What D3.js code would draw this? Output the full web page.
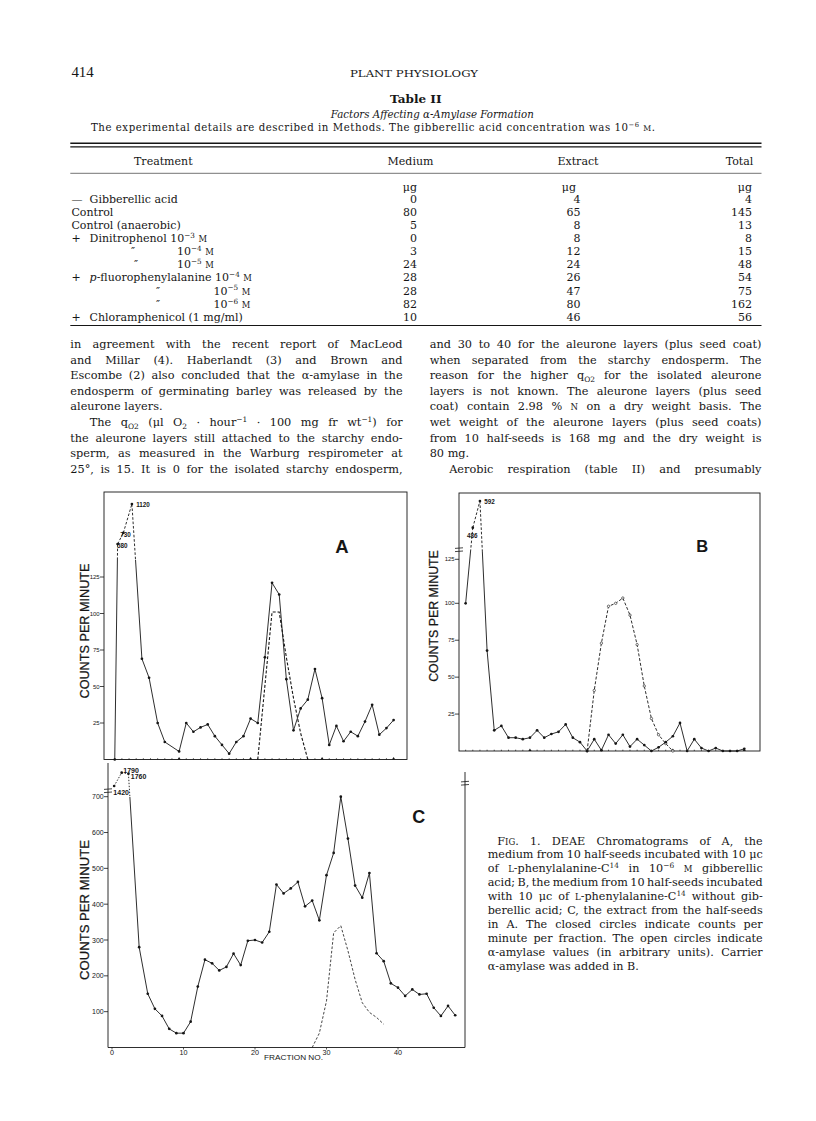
<!DOCTYPE html>
<html>
<head>
<meta charset="utf-8">
<script src="https://cdn.jsdelivr.net/npm/d3@7/dist/d3.min.js"></script>
<style>
  body { margin: 0; background: #fff; }
  svg { display: block; }
</style>
</head>
<body>
<svg id="page" width="816" height="1121"></svg>
<script>
// ---------------- table II
const treatments = [
  'Gibberellic acid', 'Control', 'Control (anaerobic)',
  'Dinitrophenol 10^[−3] ~[m]', '10^[−4] ~[m]', '10^[−5] ~[m]',
  '*[p]-fluorophenylalanine 10^[−4] ~[m]', '10^[−5] ~[m]', '10^[−6] ~[m]',
  'Chloramphenicol (1 mg/ml)'
]
const treatmentMarks = ['—', '', '', '+', '″', '″', '+', '″', '″', '+']
const medium  = [0, 80, 5, 0, 3, 24, 28, 28, 82, 10]
const extract = [4, 65, 8, 8, 12, 24, 26, 47, 80, 46]
const total   = [4, 145, 13, 8, 15, 48, 54, 75, 162, 56]

// ---------------- fig 1 A  (closed circles = counts, open = alpha-amylase)
const fracA   = [1, 1.4, 2.2, 3.4, 4.8, 5.8, 7, 8, 10, 11, 12, 13, 14, 15, 16, 17, 18, 19, 20,
                 21, 22, 23, 24, 25, 26, 27, 28, 29, 30, 31, 32, 33, 34, 35, 36, 37, 38, 39, 40]
const countsA = [0, 580, 730, 1120, 69, 56, 25, 12, 5.5, 25, 19, 22, 24, 16, 10, 4, 12, 16, 28,
                 25, 70, 121, 113, 55, 20, 35, 41, 62, 42, 10, 23, 12.5, 19, 16, 26, 37.5, 17, 21.5, 27]
const amyFracA = [21, 23, 24, 25, 26, 27, 28]
const amyA     = [0, 101, 101, 70, 42, 18, 0]

// ---------------- fig 1 B
const fracB   = d3.range(1, 41)
const countsB = [100, 486, 592, 68, 14, 17, 9, 9, 8, 9, 14, 9, 11.5, 13, 18, 9, 6, 0, 8, 0.5,
                 11, 5, 11, 3, 8, 4, 0, 2.5, 6, 10, 19, 0, 8, 2, 0, 2, 0, 0, 0, 1.5]
const amyFracB = d3.range(18, 31)
const amyB     = [0, 41, 73, 98, 100, 103, 92, 72, 44, 22, 11, 5, 0]

// ---------------- fig 1 C
const fracC   = [0.3, 1.35, 2.3, 3.8, 5, 6, 7, 8, 9, 10, 11, 12, 13, 14, 15, 16, 17, 18, 19, 20,
                 21, 22, 23, 24, 25, 26, 27, 28, 29, 30, 31, 32, 33, 34, 35, 36, 37, 38, 39, 40,
                 41, 42, 43, 44, 45, 46, 47, 48]
const countsC = [1420, 1790, 1760, 280, 150, 108, 88, 52, 40, 40, 72, 170, 245, 235, 215, 225, 262, 230, 298, 300,
                 293, 323, 455, 430, 444, 462, 394, 410, 355, 481, 543, 705, 583, 452, 418, 487, 263, 241, 179, 167,
                 144, 162, 148, 150, 111, 88, 116, 90]
const amyFracC = d3.range(28, 39)
const amyC     = [0, 40, 130, 320, 340, 270, 190, 125, 98, 84, 65]

const ticksAB = [25, 50, 75, 100, 125]
const ticksC  = [100, 200, 300, 400, 500, 600, 700]
const fracTicksC = [0, 10, 20, 30, 40]
const yTitle = 'COUNTS PER MINUTE'

// ---------------- page setup
const svg = d3.select('#page')
const serif = '"DejaVu Serif", "Liberation Serif", serif'
const sans = '"Liberation Sans", Arial, sans-serif'
const ink = '#161616'

svg.append('rect').attr('width', 816).attr('height', 1121).attr('fill', '#fff')

// tiny markup: ^[sup] _[sub] ~[small caps] *[italic]
function rich(t, str, size) {
  const re = /([\^_~*])\[([^\]]*)\]/g
  const parts = []
  let last = 0, m
  while ((m = re.exec(str))) {
    if (m.index > last) parts.push({ s: str.slice(last, m.index) })
    parts.push({ s: m[2], k: m[1] })
    last = re.lastIndex
  }
  if (last < str.length) parts.push({ s: str.slice(last) })
  let off = 0
  parts.forEach(p => {
    let shift = 0, fs = size, txt = p.s
    if (p.k === '^') { shift = -0.38 * size; fs = size * 0.66 }
    if (p.k === '_') { shift = 0.24 * size; fs = size * 0.66 }
    if (p.k === '~') { fs = size * 0.76; txt = txt.toUpperCase() }
    const ts = t.append('tspan').attr('dy', shift - off).attr('font-size', fs).text(txt)
    if (p.k === '*') ts.attr('font-style', 'italic')
    off = shift
  })
  return t
}

function line(g, str, x, y, size, o = {}) {
  const t = g.append('text').attr('x', x).attr('y', y)
    .attr('font-family', o.family || serif).attr('font-size', size).attr('fill', ink)
  if (o.anchor) t.attr('text-anchor', o.anchor)
  if (o.weight) t.attr('font-weight', o.weight)
  if (o.style) t.attr('font-style', o.style)
  rich(t, str, size)
  if (o.justify) {
    const n = (str.match(/ /g) || []).length
    const w = t.node().getComputedTextLength()
    if (n) t.style('word-spacing', ((o.justify - w) / n) + 'px')
  }
  if (o.len) t.attr('textLength', o.len).attr('lengthAdjust', o.adjust || 'spacingAndGlyphs')
  return t
}

function rule(g, x1, x2, y, w) {
  g.append('line').attr('x1', x1).attr('x2', x2).attr('y1', y).attr('y2', y)
    .attr('stroke', ink).attr('stroke-width', w)
}

// ---------------- running head + table
const head = svg.append('g')
line(head, '414', 71.4, 77, 15, { family: '"Liberation Serif", serif', len: 22.4 })
line(head, 'PLANT PHYSIOLOGY', 350, 77.3, 9.2, { len: 128 })
line(head, 'Table II', 415.8, 103.3, 11.5, { anchor: 'middle', weight: 'bold', len: 51.6 })
line(head, 'Factors Affecting α-Amylase Formation', 432.3, 117.5, 11, { anchor: 'middle', style: 'italic', len: 203 })
line(head, 'The experimental details are described in Methods.  The gibberellic acid concentration was 10^[−6] ~[m].',
  91, 130.5, 10.2, { len: 564, adjust: 'spacing' })

const tbl = svg.append('g')
rule(tbl, 70.3, 761.5, 143.3, 1.6)
rule(tbl, 70.3, 761.5, 146.9, 1.1)
rule(tbl, 70.3, 761.5, 173.3, 0.6)
line(tbl, 'Treatment', 163.3, 165, 11, { anchor: 'middle' })
const colRight = [417, 580.5, 752]
const headMid = [410.5, 578, 739.5]
;['Medium', 'Extract', 'Total'].forEach((c, i) => line(tbl, c, headMid[i], 165, 11, { anchor: 'middle' }))
;[417, 576, 752].forEach(x => line(tbl, 'μg', x, 190.5, 11, { anchor: 'end' }))

const rowY = i => 202.5 + i * 13.15
// indent of ditto / concentration rows
const dittoX = [0, 0, 0, 0, 131, 134, 0, 156, 156, 0]
const concX  = [0, 0, 0, 0, 177, 177, 0, 213.5, 213.5, 0]
treatments.forEach((t, i) => {
  const m = treatmentMarks[i]
  if (m === '″') {
    line(tbl, m, dittoX[i], rowY(i), 11)
    line(tbl, t, concX[i], rowY(i), 11)
  } else if (m) {
    line(tbl, m, 71.4, rowY(i), 11)
    line(tbl, t, 89.6, rowY(i), 11)
  } else {
    line(tbl, t, 71.4, rowY(i), 11)
  }
  ;[medium, extract, total].forEach((col, j) =>
    line(tbl, String(col[i]), colRight[j], rowY(i), 11, { anchor: 'end' }))
})
rule(tbl, 70.3, 761.5, 325.5, 1.1)

// ---------------- body text (two columns)
const leftCol = [
  { t: 'in agreement with the recent report of MacLeod', j: 1 },
  { t: 'and Millar (4).  Haberlandt (3) and Brown and', j: 1 },
  { t: 'Escombe (2) also concluded that the α-amylase in the', j: 1 },
  { t: 'endosperm of germinating barley was released by the', j: 1 },
  { t: 'aleurone layers.', j: 0 },
  { t: 'The q_[O2] (μl O_[2] · hour^[−1] · 100 mg fr wt^[−1]) for', j: 1, ind: 1 },
  { t: 'the aleurone layers still attached to the starchy endo-', j: 1 },
  { t: 'sperm, as measured in the Warburg respirometer at', j: 1 },
  { t: '25°, is 15.  It is 0 for the isolated starchy endosperm,', j: 1 }
]
const rightCol = [
  { t: 'and 30 to 40 for the aleurone layers (plus seed coat)', j: 1 },
  { t: 'when separated from the starchy endosperm.  The', j: 1 },
  { t: 'reason for the higher q_[O2] for the isolated aleurone', j: 1 },
  { t: 'layers is not known.  The aleurone layers (plus seed', j: 1 },
  { t: 'coat) contain 2.98 % ~[n] on a dry weight basis.  The', j: 1 },
  { t: 'wet weight of the aleurone layers (plus seed coats)', j: 1 },
  { t: 'from 10 half-seeds is 168 mg and the dry weight is', j: 1 },
  { t: '80 mg.', j: 0 },
  { t: 'Aerobic respiration (table II) and presumably', j: 1, ind: 1 }
]
const body = svg.append('g')
function column(lines, x0, width) {
  lines.forEach((l, i) => {
    const ind = l.ind ? 19.5 : 0
    line(body, l.t.replace(/  /g, ' '), x0 + ind, 348 + i * 15.6, 11.3,
      l.j ? { justify: width - ind } : {})
  })
}
column(leftCol, 70.3, 332.3)
column(rightCol, 429.7, 331.8)

// ---------------- caption
const caption = [
  { t: 'F~[ig]. 1.  DEAE Chromatograms of A, the', j: 1, ind: 1 },
  { t: 'medium from 10 half-seeds incubated with 10 μc', j: 1 },
  { t: 'of ~[l]-phenylalanine-C^[14] in 10^[−6] ~[m] gibberellic', j: 1 },
  { t: 'acid; B, the medium from 10 half-seeds incubated', j: 1 },
  { t: 'with 10 μc of ~[l]-phenylalanine-C^[14] without gib-', j: 1 },
  { t: 'berellic acid; C, the extract from the half-seeds', j: 1 },
  { t: 'in A.  The closed circles indicate counts per', j: 1 },
  { t: 'minute per fraction.  The open circles indicate', j: 1 },
  { t: 'α-amylase values (in arbitrary units).  Carrier', j: 1 },
  { t: 'α-amylase was added in B.', j: 0 }
]
const cap = svg.append('g')
caption.forEach((l, i) => {
  const ind = l.ind ? 9.6 : 0
  line(cap, l.t.replace(/  /g, ' '), 487.7 + ind, 844.5 + i * 13.9, 11.2,
    l.j ? { justify: 275 - ind } : {})
})

// ---------------- charts
const xA = d3.scaleLinear().domain([0, 40]).range([107.6, 393.6])
const yA = d3.scaleLinear().domain([0, 125, 580, 1120]).range([759.5, 577, 544, 504])
const xB = d3.scaleLinear().domain([0, 40]).range([458.5, 744.3])
const yB = d3.scaleLinear().domain([0, 100, 125, 486, 592]).range([751, 603.3, 559.3, 527.7, 501])
const xC = d3.scaleLinear().domain([0, 40]).range([112, 398])
const yC = d3.scaleLinear().domain([0, 700, 1420, 1790]).range([1047.5, 796.7, 786, 772.7])

function seg(g, a, b, dash, w) {
  g.append('line').attr('x1', a[0]).attr('y1', a[1]).attr('x2', b[0]).attr('y2', b[1])
    .attr('stroke', ink).attr('stroke-width', w)
    .attr('stroke-dasharray', dash || null)
}

// counts line: the part above the axis break is drawn broken
function counts(g, fr, vals, x, y, breakY, dash) {
  const P = fr.map((f, i) => [x(f), y(vals[i])])
  for (let i = 1; i < P.length; i++) {
    const a = P[i - 1], b = P[i]
    const ua = a[1] < breakY, ub = b[1] < breakY
    if (ua === ub) seg(g, a, b, ua ? dash : null, 0.9)
    else {
      const t = (breakY - a[1]) / (b[1] - a[1])
      const m = [a[0] + t * (b[0] - a[0]), breakY]
      seg(g, a, m, ua ? dash : null, 0.9)
      seg(g, m, b, ub ? dash : null, 0.9)
    }
  }
  g.selectAll(null).data(P).join('circle')
    .attr('cx', d => d[0]).attr('cy', d => d[1]).attr('r', 1.35).attr('fill', ink)
}

function amylase(g, fr, vals, x, y, dash, w, open) {
  const P = fr.map((f, i) => [x(f), y(vals[i])])
  g.append('path').attr('d', d3.line()(P)).attr('fill', 'none')
    .attr('stroke', ink).attr('stroke-width', w).attr('stroke-dasharray', dash)
  if (open) g.selectAll(null).data(P).join('circle')
    .attr('cx', d => d[0]).attr('cy', d => d[1]).attr('r', 1.2)
    .attr('fill', '#fff').attr('stroke', ink).attr('stroke-width', 0.6)
}

function breakLabels(g, fr, vals, x, y, min, offs, size) {
  fr.forEach((f, i) => {
    if (vals[i] < min) return
    const o = offs.shift()
    g.append('text').attr('x', x(f) + o[0]).attr('y', y(vals[i]) + o[1])
      .attr('text-anchor', o[2] || 'start')
      .attr('font-family', sans).attr('font-weight', 'bold').attr('font-size', size)
      .attr('fill', ink).text(vals[i])
  })
}

function yAxis(g, y, ticks, axisX, size) {
  ticks.forEach(v => {
    seg(g, [axisX - 4, y(v)], [axisX, y(v)], null, 0.8)
    g.append('text').attr('x', axisX - 4.3).attr('y', y(v) + size * 0.36)
      .attr('text-anchor', 'end').attr('font-family', sans).attr('font-size', size)
      .attr('fill', ink).text(v)
  })
}

function title(g, cx, cy, len) {
  g.append('text').attr('transform', `translate(${cx},${cy}) rotate(-90)`)
    .attr('y', 4.5).attr('text-anchor', 'middle')
    .attr('font-family', sans).attr('font-size', 12.6).attr('fill', ink)
    .attr('stroke', ink).attr('stroke-width', 0.25)
    .attr('textLength', len).attr('lengthAdjust', 'spacingAndGlyphs')
    .text(yTitle)
}

function fractionTicks(g, x, axisY) {
  d3.range(1, 41).forEach(f => {
    if (f % 10 === 0) {
      const cx = x(f)
      g.append('path').attr('d', `M${cx - 1.6},${axisY}L${cx},${axisY - 2.6}L${cx + 1.6},${axisY}Z`).attr('fill', ink)
    } else seg(g, [x(f), axisY], [x(f), axisY - 1.3], null, 0.7)
  })
}

function letter(g, s, x, y, size) {
  g.append('text').attr('x', x).attr('y', y).attr('text-anchor', 'middle')
    .attr('font-family', sans).attr('font-weight', 'bold').attr('font-size', size)
    .attr('fill', ink).text(s)
}

function breakMark(g, x, y) {
  seg(g, [x - 4, y - 1.6], [x + 4, y - 2.2], null, 0.8)
  seg(g, [x - 4, y + 1.6], [x + 4, y + 1.0], null, 0.8)
}

// ----- A
const gA = svg.append('g')
gA.append('rect').attr('x', 104).attr('y', 492).attr('width', 303).attr('height', 267.5)
  .attr('fill', 'none').attr('stroke', ink).attr('stroke-width', 0.9)
fractionTicks(gA, xA, 759.5)
yAxis(gA, yA, ticksAB, 104, 6)
amylase(gA, amyFracA, amyA, xA, yA, '3,1.8', 1.1, false)
counts(gA, fracA, countsA, xA, yA, 560, '2.6,1.8')
breakLabels(gA, fracA, countsA, xA, yA, 500, [[-0.5, 4.2], [-3, 4.5], [4.3, 2.7]], 6.3)
title(gA, 84, 631, 135)
letter(gA, 'A', 342, 553.3, 18.5)

// ----- B
const gB = svg.append('g')
gB.append('rect').attr('x', 459).attr('y', 493).attr('width', 301).attr('height', 258)
  .attr('fill', 'none').attr('stroke', ink).attr('stroke-width', 0.9)
fractionTicks(gB, xB, 751)
yAxis(gB, yB, ticksAB, 459, 6)
breakMark(gB, 459, 550)
amylase(gB, amyFracB, amyB, xB, yB, '3,1.8', 0.9, true)
counts(gB, fracB, countsB, xB, yB, 552, '2.6,1.8')
breakLabels(gB, fracB, countsB, xB, yB, 400, [[-0.5, 10.6, 'middle'], [4.4, 3]], 6.3)
title(gB, 433.5, 616, 131.7)
letter(gB, 'B', 702.3, 551.5, 16.5)

// ----- C
const gC = svg.append('g')
seg(gC, [108, 763], [108, 1047.5], null, 0.9)
seg(gC, [108, 1047.5], [465, 1047.5], null, 0.9)
seg(gC, [465, 772], [465, 1047.5], null, 0.9)
breakMark(gC, 108, 791)
breakMark(gC, 465, 783.5)
yAxis(gC, yC, ticksC, 108, 7)
fracTicksC.forEach(f => {
  seg(gC, [xC(f), 1047.5], [xC(f), 1049.5], null, 0.7)
  gC.append('text').attr('x', xC(f)).attr('y', 1054.8).attr('text-anchor', 'middle')
    .attr('font-family', sans).attr('font-size', 7.2).attr('fill', ink).text(f)
})
gC.append('text').attr('x', 264).attr('y', 1060).attr('font-family', sans).attr('font-size', 7.6)
  .attr('fill', ink).attr('textLength', 59).attr('lengthAdjust', 'spacingAndGlyphs').text('FRACTION NO.')
amylase(gC, amyFracC, amyC, xC, yC, '2.6,1.8', 0.8, false)
counts(gC, fracC, countsC, xC, yC, 797, '1.4,1.6')
breakLabels(gC, fracC, countsC, xC, yC, 1000, [[-0.8, 9], [1.6, 0], [2.3, 5.5]], 7)
title(gC, 84, 910, 140)
letter(gC, 'C', 418.7, 823, 18)
</script>
</body>
</html>
